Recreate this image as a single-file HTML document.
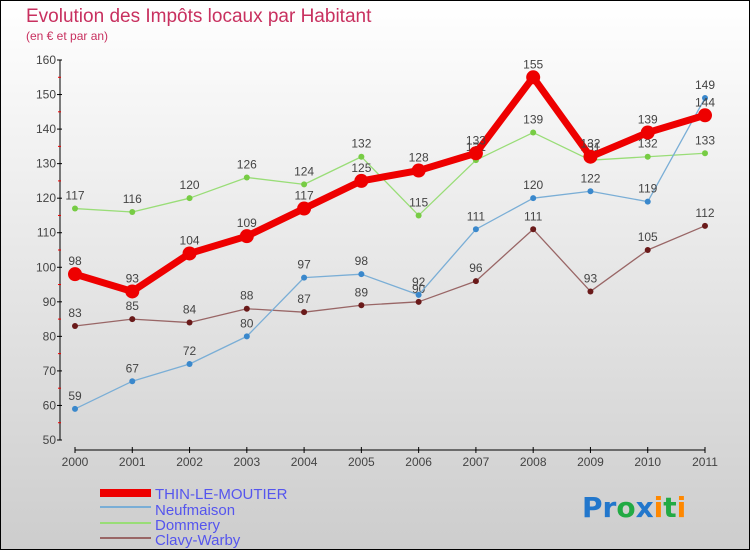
<!DOCTYPE html>
<html><head><meta charset="utf-8"><style>
body{margin:0;width:750px;height:550px;overflow:hidden;font-family:"Liberation Sans",sans-serif}
</style></head><body>
<svg id="c" width="750" height="550" xmlns="http://www.w3.org/2000/svg">
<defs><linearGradient id="bg" x1="0" y1="0" x2="0" y2="1"><stop offset="0" stop-color="#ffffff"/><stop offset="1" stop-color="#cdcdcd"/></linearGradient></defs>
<rect x="0.5" y="0.5" width="749" height="549" fill="url(#bg)" stroke="#000"/>
<text x="26" y="22" font-size="19" fill="#c8305f">Evolution des Impôts locaux par Habitant</text>
<text x="26" y="40" font-size="12" fill="#c8305f">(en € et par an)</text>
<g id="axes"></g><g id="series"></g>
<g font-size="15" fill="#5555ee">
<rect x="100" y="489" width="51" height="8" fill="#ee0000"/>
<text x="155" y="499">THIN-LE-MOUTIER</text>
<rect x="100" y="506" width="51" height="2" fill="#7aaed6"/>
<text x="155" y="515">Neufmaison</text>
<rect x="100" y="522" width="51" height="2" fill="#99dd77"/>
<text x="155" y="530">Dommery</text>
<rect x="100" y="537" width="51" height="2" fill="#996666"/>
<text x="155" y="545">Clavy-Warby</text>
</g>
<g font-size="28" font-family="DejaVu Sans, sans-serif" font-weight="bold">
<text x="582" y="517"><tspan fill="#2277cc">Pr</tspan><tspan fill="#22aa44">o</tspan><tspan fill="#2277cc">x</tspan><tspan fill="#ff8800">i</tspan><tspan fill="#22aa44">t</tspan><tspan fill="#ff8800">i</tspan></text>
</g>
</svg>
<script>
const years=["2000","2001","2002","2003","2004","2005","2006","2007","2008","2009","2010","2011"];
const yTicks=[50,60,70,80,90,100,110,120,130,140,150,160];
const thin=[98,93,104,109,117,125,128,133,155,132,139,144];
const neufmaison=[59,67,72,80,97,98,92,111,120,122,119,149];
const dommery=[117,116,120,126,124,132,115,131,139,131,132,133];
const clavy=[83,85,84,88,87,89,90,96,111,93,105,112];
const NS="http://www.w3.org/2000/svg";
const X=i=>75+i*(630/11), Y=v=>440-(v-50)*380/110;
function mk(t,a,p){const e=document.createElementNS(NS,t);for(const k in a)e.setAttribute(k,a[k]);p.appendChild(e);return e;}
const ax=document.getElementById('axes');
let e=mk('line',{x1:60,y1:60,x2:60,y2:440,stroke:'#000'},ax);


e=mk('line',{x1:75,y1:450,x2:705,y2:450,stroke:'#000'},ax);


yTicks.forEach((v,i)=>{mk('line',{x1:57,y1:Y(v),x2:62,y2:Y(v),stroke:'#000'},ax);
 if(i<yTicks.length-1)mk('line',{x1:58,y1:Y(v+5),x2:61,y2:Y(v+5),stroke:'#e00'},ax);
 const t=mk('text',{x:56,y:Y(v)+4,'font-size':12,fill:'#444','text-anchor':'end'},ax);t.textContent=v;
 
 });
years.forEach((y,i)=>{mk('line',{x1:X(i),y1:447,x2:X(i),y2:453,stroke:'#000'},ax);
 const t=mk('text',{x:X(i),y:466,'font-size':12,fill:'#444','text-anchor':'middle'},ax);t.textContent=y;
 
 });
const sg=document.getElementById('series');
function draw(d,name,col,dot,w,r){const g=mk('g',{},sg);
 
 
 mk('polyline',{points:d.map((v,i)=>X(i)+','+Y(v)).join(' '),fill:'none',stroke:col,'stroke-width':w,'stroke-linejoin':'round'},g);
 d.forEach((v,i)=>{const c=mk('circle',{cx:X(i),cy:Y(v),r:r,fill:dot},g);
  
  
  const t=mk('text',{x:X(i),y:Y(v)-9,'font-size':12,fill:'#444','text-anchor':'middle'},g);t.textContent=v;});}
draw(clavy,'clavy','#996666','#6a1a1a',1.3,3);
draw(dommery,'dommery','#99dd77','#77cc44',1.3,3);
draw(neufmaison,'neufmaison','#7aaed6','#3a88cc',1.3,3);
draw(thin,'thin','#ee0000','#ee0000',7,7);
</script>
</body></html>
